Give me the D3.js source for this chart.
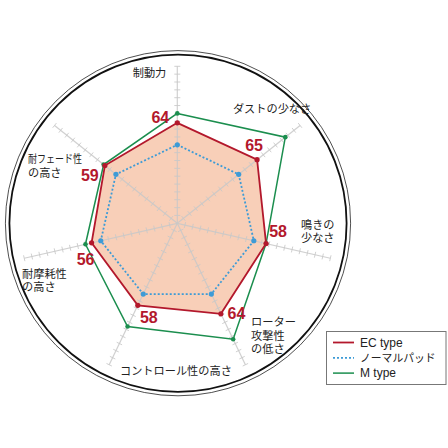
<!DOCTYPE html>
<html><head><meta charset="utf-8">
<script src="https://cdn.jsdelivr.net/npm/d3@7"></script>
<style>html,body{margin:0;padding:0;background:#fff;}svg{display:block;}</style>
</head><body>
<svg id="c" width="448" height="448"></svg>
<script>
// ---- data ----
const categories = [
  ["制動力"],
  ["ダストの少なさ"],
  ["鳴きの","少なさ"],
  ["ローター","攻撃性","の低さ"],
  ["コントロール性の高さ"],
  ["耐摩耗性","の高さ"],
  ["耐フェード性","の高さ"]
];
const seriesNames = ["EC type", "ノーマルパッド", "M type"];
const ecValues     = [64, 65, 58, 64, 58, 56, 59];
const normalValues = [50, 50, 50, 50, 50, 50, 50];
const mValues      = [70, 88, 58, 82, 73, 60, 60];
const tickValues = d3.range(5, 101, 5);

// ---- layout / style ----
const cx = 177.3, cy = 223.3;
const svg = d3.select("#c");
const r = d3.scaleLinear().domain([0, 100]).range([0, 157]);
const n = categories.length;
const ang = d3.scaleLinear().domain([0, n]).range([0, 2 * Math.PI]);
const pt = (i, v) => [cx + Math.sin(ang(i)) * r(v), cy - Math.cos(ang(i)) * r(v)];

const RED = "#b3182c", BLUE = "#3d9bd6", GREEN = "#1b8e4e", FILL = "#f8cfb8", AXIS = "#c9c9c9";

// outer double circle
svg.append("circle").attr("cx", 178).attr("cy", 223.2).attr("r", 172.6)
  .attr("fill", "none").attr("stroke", "#222").attr("stroke-width", 0.8);
svg.append("circle").attr("cx", 178).attr("cy", 223.2).attr("r", 168.6)
  .attr("fill", "none").attr("stroke", "#111").attr("stroke-width", 1.8);

// EC fill
const lineClosed = d3.line().curve(d3.curveLinearClosed);
svg.append("path").attr("d", lineClosed(ecValues.map((v, i) => pt(i, v))))
  .attr("fill", FILL).attr("stroke", "none");

// axes with ticks
const axes = svg.append("g");
categories.forEach((c, i) => {
  const e = pt(i, 100);
  axes.append("line").attr("x1", cx).attr("y1", cy).attr("x2", e[0]).attr("y2", e[1])
    .attr("stroke", AXIS).attr("stroke-width", 1.2).attr("opacity", 0.85);
  const a = ang(i);
  const px = Math.cos(a), py = Math.sin(a);
  tickValues.forEach(t => {
    const p = pt(i, t);
    axes.append("line")
      .attr("x1", p[0] - px * 3).attr("y1", p[1] - py * 3)
      .attr("x2", p[0] + px * 3).attr("y2", p[1] + py * 3)
      .attr("stroke", AXIS).attr("stroke-width", 1).attr("opacity", 0.85);
  });
});

// series lines
svg.append("path").attr("d", lineClosed(mValues.map((v, i) => pt(i, v))))
  .attr("fill", "none").attr("stroke", GREEN).attr("stroke-width", 1.5);
svg.append("path").attr("d", lineClosed(ecValues.map((v, i) => pt(i, v))))
  .attr("fill", "none").attr("stroke", RED).attr("stroke-width", 1.8);
svg.append("path").attr("d", lineClosed(normalValues.map((v, i) => pt(i, v))))
  .attr("fill", "none").attr("stroke", BLUE).attr("stroke-width", 1.8).attr("stroke-dasharray", "2,2");

// dots
[[mValues, GREEN, 2.3], [normalValues, BLUE, 2.6], [ecValues, RED, 2.6]].forEach(([vals, col, rad]) => {
  svg.append("g").selectAll("circle").data(vals).join("circle")
    .attr("cx", (v, i) => pt(i, v)[0]).attr("cy", (v, i) => pt(i, v)[1])
    .attr("r", rad).attr("fill", col);
});

// value labels (EC)
const valOffsets = [[-17, -6], [-3, -14], [12, -12], [15.5, -1], [11, 12], [-6, 16], [-15, 10]];
svg.append("g").selectAll("text").data(ecValues).join("text")
  .attr("x", (v, i) => pt(i, v)[0] + valOffsets[i][0])
  .attr("y", (v, i) => pt(i, v)[1] + valOffsets[i][1] + 5.8)
  .attr("text-anchor", "middle")
  .attr("font-family", "'Liberation Sans', Arial, sans-serif")
  .attr("font-weight", "bold").attr("font-size", 16)
  .attr("fill", RED)
  .text(d => d);

// category labels
const catLayout = [
  [-11, 10.7, "end"], [-28, -12, "middle"], [-29.4, -29.7, "start"], [5.6, -38.3, "start"],
  [10.8, 10.2, "start"], [-2.2, 19.3, "start"], [-26.6, 37.6, "start"]
];
const catWidths = { "耐フェード性": 54, "ローター": 45 };
categories.forEach((lines, i) => {
  const e = pt(i, 100);
  const [dx, dy, anchor] = catLayout[i];
  lines.forEach((s, k) => {
    const t = svg.append("text")
      .attr("x", e[0] + dx).attr("y", e[1] + dy + k * 13.5)
      .attr("font-family", "'Noto Sans CJK JP', sans-serif")
      .attr("font-size", 11.2).attr("fill", "#222")
      .attr("text-anchor", anchor).text(s);
    if (catWidths[s]) t.attr("textLength", catWidths[s]).attr("lengthAdjust", "spacingAndGlyphs");
  });
});

// legend
const lg = svg.append("g");
lg.append("rect").attr("x", 326.5).attr("y", 331.5).attr("width", 119.5).attr("height", 53)
  .attr("fill", "#fff").attr("stroke", "#777").attr("stroke-width", 1);
const legStyles = [[RED, null, 1.8], [BLUE, "2,2", 1.8], [GREEN, null, 1.5]];
seriesNames.forEach((name, k) => {
  const y = 342.5 + k * 15.3;
  lg.append("line").attr("x1", 333).attr("x2", 354).attr("y1", y).attr("y2", y)
    .attr("stroke", legStyles[k][0]).attr("stroke-width", legStyles[k][2])
    .attr("stroke-dasharray", legStyles[k][1]);
  const latin = /^[A-Za-z ]+$/.test(name);
  lg.append("text").attr("x", 360).attr("y", y + 4)
    .attr("font-family", latin ? "'Liberation Sans', Arial, sans-serif" : "'Noto Sans CJK JP', sans-serif")
    .attr("font-size", latin ? 12 : 10.8).attr("fill", "#222").text(name);
});
</script>
</body></html>
